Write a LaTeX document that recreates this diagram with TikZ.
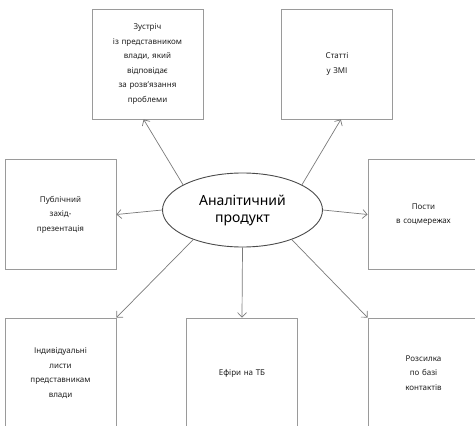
\documentclass[tikz,border=0pt]{standalone}
\usepackage{fontspec}
\setmainfont{Noto Sans}
\usetikzlibrary{arrows.meta,shapes.geometric}
\definecolor{BoxLine}{HTML}{9A9A9A}
\definecolor{LinkLine}{HTML}{7A7A7A}
\definecolor{HubLine}{HTML}{4A4A4A}
\definecolor{InkText}{HTML}{1E1E1E}

\begin{document}
\begin{tikzpicture}[x=1pt,y=-1pt,
    font=\fontsize{8}{14.5}\selectfont,
    outlet/.style={draw=BoxLine, line width=0.9pt, minimum width=111pt,
      minimum height=110pt, text width=104pt, align=center, text=InkText,
      inner sep=0pt},
    hub/.style={ellipse, draw=HubLine, line width=0.9pt, minimum width=160pt,
      minimum height=74pt, inner sep=0pt, align=center, text=black,
      font=\fontsize{14}{17}\selectfont},
    link/.style={draw=LinkLine, line width=0.7pt,
      -{Straight Barb[length=4.5pt,width=9pt]}}]
  \useasboundingbox (0,0) rectangle (475,426);
  \clip (0,0) rectangle (475,426);
  % hub
  \node[hub] (product) at (242.5,210) {Аналітичний\\продукт};
  % outlets, top row
  \node[outlet] (meeting) at (147.5,64) {Зустріч\\із представником\\влади, який\\відповідає\\за розв'язання\\проблеми};
  \node[outlet] (articles) at (337,64) {Статті\\у ЗМІ};
  % middle row
  \node[outlet] (event) at (60.5,214.5) {Публічний\\захід-\\презентація};
  \node[outlet] (posts) at (423.5,214.5) {Пости\\в соцмережах};
  % bottom row
  \node[outlet] (letters) at (60.5,373) {Індивідуальні\\листи\\представникам\\влади};
  \node[outlet] (tv) at (242,373) {Ефіри на ТБ};
  \node[outlet] (mailing) at (423.5,373) {Розсилка\\по базі\\контактів};
  % links
  \draw[link] (product.157) -- (meeting.266);
  \draw[link] (product.23) -- (articles.274);
  \draw[link] (product.west) -- (event.east);
  \draw[link] (product.east) -- (posts.west);
  \draw[link] (product.211) -- (letters.north east);
  \draw[link] (product.south) -- (tv.north);
  \draw[link] (product.329) -- (mailing.north west);
\end{tikzpicture}
\end{document}
